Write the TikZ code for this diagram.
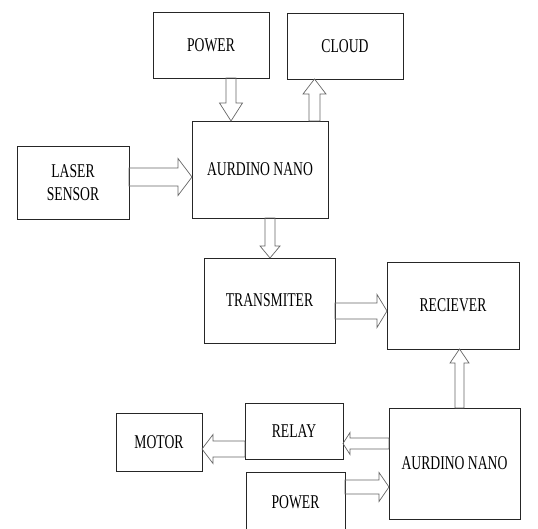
\documentclass[tikz,border=0pt]{standalone}
\usepackage{fontspec}
\setmainfont{Liberation Serif}[FakeStretch=0.7]
\usetikzlibrary{calc}

\begin{document}
\begin{tikzpicture}[x=1pt,y=-1pt,
        hollow/.style n args={3}{draw=black!60, line width=0.7pt, to path={
                let \p1=(\tikztostart), \p2=(\tikztotarget), \p3=($(\p2)!#3!(\p1)$) in
                ($(\p1)!#1!90:(\p2)$) -- ($(\p3)!#1!-90:(\p1)$) -- ($(\p3)!#2!-90:(\p1)$) -- (\p2)
                -- ($(\p3)!#2!90:(\p1)$) -- ($(\p3)!#1!90:(\p1)$) -- ($(\p1)!#1!-90:(\p2)$) -- cycle}}]
        \clip (0,0) rectangle (538,529);
        \begin{scope}[every node/.style={draw=black!85, line width=0.9pt, rectangle, inner sep=0, outer sep=0, align=center, font=\fontsize{19.5}{23}\selectfont}]
                \node[minimum width=116, minimum height=66] (Pow1) at (211,45) {POWER};
                \node[minimum width=116, minimum height=66] (Cloud) at (345,46) {CLOUD};
                \node[minimum width=136, minimum height=97] (Nano1) at (260,169.5) {AURDINO NANO};
                \node[minimum width=112, minimum height=73] (Laser) at (73,182.5) {LASER\\SENSOR};
                \node[minimum width=131, minimum height=85] (Tx) at (269.5,300.5) {TRANSMITER};
                \node[minimum width=132, minimum height=87] (Rx) at (453,305.5) {RECIEVER};
                \node[minimum width=131, minimum height=111] (Nano2) at (454.5,463.5) {AURDINO NANO};
                \node[minimum width=98, minimum height=56] (Relay) at (294,431) {RELAY};
                \node[minimum width=86, minimum height=58] (Motor) at (159,442) {MOTOR};
                \node[minimum width=99, minimum height=60] (Pow2) at (295.5,502) {POWER};
        \end{scope}

        \draw[hollow={5pt}{11.5pt}{18pt}] ([xshift=20pt]Pow1.south) to ([xshift=-29pt]Nano1.north);
        \draw[hollow={5.5pt}{11.5pt}{15pt}] ([xshift=54.5pt]Nano1.north) to ([xshift=-30.5pt]Cloud.south);
        \draw[hollow={9pt}{18.5pt}{14pt}] ([yshift=5.5pt]Laser.east) to ([yshift=-7.5pt]Nano1.west);
        \draw[hollow={5pt}{10pt}{12pt}] ([xshift=10pt]Nano1.south) to ([xshift=0.5pt]Tx.north);
        \draw[hollow={8pt}{16.5pt}{10pt}] ([yshift=-10.5pt]Tx.east) to ([yshift=-5.5pt]Rx.west);
        \draw[hollow={4.5pt}{9.5pt}{14pt}] ([xshift=5pt]Nano2.north) to ([xshift=6.5pt]Rx.south);
        \draw[hollow={5.5pt}{11pt}{7pt}] ([yshift=20pt]Nano2.west) to ([yshift=-12.5pt]Relay.east);
        \draw[hollow={8pt}{14.5pt}{11pt}] ([yshift=-18pt]Relay.west) to ([yshift=-7pt]Motor.east);
        \draw[hollow={7pt}{14.5pt}{10pt}] ([yshift=15pt]Pow2.east) to ([yshift=-23.5pt]Nano2.west);
\end{tikzpicture}
\end{document}
